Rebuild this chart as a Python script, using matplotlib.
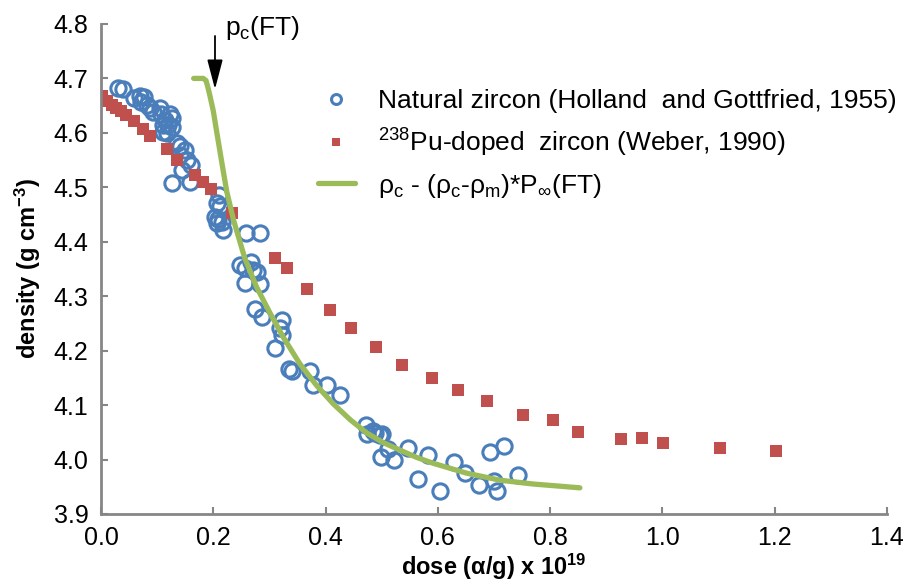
import numpy as np
import matplotlib
matplotlib.use("Agg")
import matplotlib.pyplot as plt

plt.rcParams['font.family'] = ['Liberation Sans', 'DejaVu Sans']
plt.rcParams['mathtext.fontset'] = 'custom'
plt.rcParams['mathtext.rm'] = 'Liberation Sans'
plt.rcParams['mathtext.it'] = 'Liberation Sans:italic'
plt.rcParams['mathtext.bf'] = 'Liberation Sans:bold'

# natural zircon (Holland and Gottfried, 1955)
nat_dose = [0.031, 0.039, 0.059, 0.069, 0.077, 0.072, 0.081, 0.087, 0.093, 0.105,
            0.107, 0.123, 0.127, 0.114, 0.111, 0.120, 0.127, 0.111, 0.117, 0.135,
            0.141, 0.150, 0.141, 0.154, 0.161, 0.144, 0.159, 0.126,
            0.211, 0.207, 0.212, 0.203, 0.209, 0.215, 0.206, 0.218, 0.259, 0.283,
            0.248, 0.256, 0.268, 0.271, 0.277, 0.256, 0.283, 0.274, 0.286, 0.322,
            0.319, 0.322, 0.310, 0.334, 0.340, 0.372, 0.378, 0.402, 0.426,
            0.472, 0.473, 0.484, 0.488, 0.497, 0.500, 0.512, 0.498, 0.522, 0.547,
            0.582, 0.564, 0.603, 0.628, 0.648, 0.673, 0.692, 0.700, 0.705, 0.718, 0.743]
nat_dens = [4.682, 4.681, 4.664, 4.668, 4.666, 4.657, 4.652, 4.645, 4.639, 4.645,
            4.634, 4.634, 4.627, 4.624, 4.615, 4.615, 4.611, 4.602, 4.599, 4.581,
            4.575, 4.569, 4.559, 4.550, 4.541, 4.532, 4.510, 4.508,
            4.486, 4.471, 4.465, 4.446, 4.441, 4.437, 4.434, 4.422, 4.416, 4.416,
            4.357, 4.351, 4.363, 4.348, 4.345, 4.324, 4.322, 4.276, 4.262, 4.256,
            4.241, 4.229, 4.204, 4.167, 4.163, 4.163, 4.137, 4.137, 4.118,
            4.063, 4.047, 4.053, 4.048, 4.045, 4.047, 4.019, 4.005, 3.999, 4.021,
            4.008, 3.964, 3.942, 3.996, 3.975, 3.954, 4.013, 3.961, 3.942, 4.024, 3.971]

# 238Pu-doped zircon (Weber, 1990)
pu_dose = [0.001, 0.010, 0.019, 0.027, 0.035, 0.045, 0.058, 0.074, 0.087, 0.118,
           0.136, 0.167, 0.182, 0.196, 0.233,
           0.310, 0.331, 0.367, 0.407, 0.445, 0.489, 0.536, 0.590, 0.635, 0.687,
           0.751, 0.805, 0.850, 0.926, 0.964, 1.001, 1.103, 1.202]
pu_dens = [4.668, 4.659, 4.651, 4.645, 4.641, 4.633, 4.622, 4.607, 4.594, 4.570,
           4.550, 4.523, 4.509, 4.496, 4.452,
           4.370, 4.352, 4.314, 4.274, 4.242, 4.206, 4.174, 4.150, 4.127, 4.107,
           4.082, 4.073, 4.051, 4.038, 4.039, 4.031, 4.022, 4.016]

# model curve rho_c - (rho_c - rho_m) * P(FT)
fit_dose = [0.165, 0.182, 0.187, 0.190, 0.194, 0.200, 0.206, 0.212, 0.218, 0.224,
            0.236, 0.256, 0.277, 0.301, 0.325, 0.354, 0.384, 0.414, 0.444, 0.473,
            0.503, 0.533, 0.562, 0.592, 0.651, 0.711, 0.770, 0.818, 0.853]
fit_dens = [4.700, 4.700, 4.696, 4.685, 4.668, 4.640, 4.602, 4.565, 4.528, 4.492,
            4.440, 4.370, 4.317, 4.269, 4.224, 4.176, 4.136, 4.102, 4.073, 4.049,
            4.031, 4.017, 4.004, 3.993, 3.975, 3.962, 3.955, 3.951, 3.948]

fig = plt.figure(figsize=(9.16, 5.87), dpi=100)
ax = fig.add_axes([0.1103, 0.1244, 0.858, 0.8348])

ax.plot(nat_dose, nat_dens, 'o', mfc='none', mec='#4A7EBB', mew=2.2, ms=11,
        label='Natural zircon (Holland  and Gottfried, 1955)')
ax.plot(pu_dose, pu_dens, 's', color='#C0504D', ms=8, mew=0,
        label=r'$^{238}$Pu-doped  zircon (Weber, 1990)')
ax.plot(fit_dose, fit_dens, '-', color='#9BBB59', lw=3.8, solid_capstyle='round',
        solid_joinstyle='round',
        label=r'ρ$_\mathrm{c}$ - (ρ$_\mathrm{c}$-ρ$_\mathrm{m}$)*P$_\infty$(FT)')

ax.annotate('', xy=(0.203, 4.675), xytext=(0.203, 4.783),
            arrowprops=dict(arrowstyle='-|>,head_length=0.65,head_width=0.17',
                            color='black', lw=1.3, mutation_scale=28))
ax.text(0.221, 4.780, r'p$_\mathrm{c}$(FT)', fontsize=19, ha='left', va='baseline',
        clip_on=False)

ax.set_xlim(0, 1.4)
ax.set_ylim(3.9, 4.8)
ax.set_xticks(np.arange(0, 1.41, 0.2))
ax.set_yticks(np.arange(3.9, 4.81, 0.1))
ax.xaxis.set_major_formatter(matplotlib.ticker.FormatStrFormatter('%.1f'))
ax.yaxis.set_major_formatter(matplotlib.ticker.FormatStrFormatter('%.1f'))
ax.tick_params(direction='in', length=5, width=1.5, color='#868686',
               labelsize=18, pad=9)

for s in ['top', 'right']:
    ax.spines[s].set_visible(False)
for s in ['left', 'bottom']:
    ax.spines[s].set_color('#868686')
    ax.spines[s].set_linewidth(2)

ax.set_xlabel(r'dose (α/g) x $\mathbf{10^{19}}$', fontsize=17,
              fontweight='bold', labelpad=1)
ax.set_ylabel(r'density (g cm$^{\mathbf{-3}}$)', fontsize=17,
              fontweight='bold', labelpad=8)

ax.legend(loc='upper left', bbox_to_anchor=(0.276, 0.867), frameon=False,
          fontsize=19, handlelength=1.4, labelspacing=0.5, handletextpad=0.87,
          borderpad=0, borderaxespad=0, markerscale=0.65)

fig.savefig('out.png', dpi=100)
